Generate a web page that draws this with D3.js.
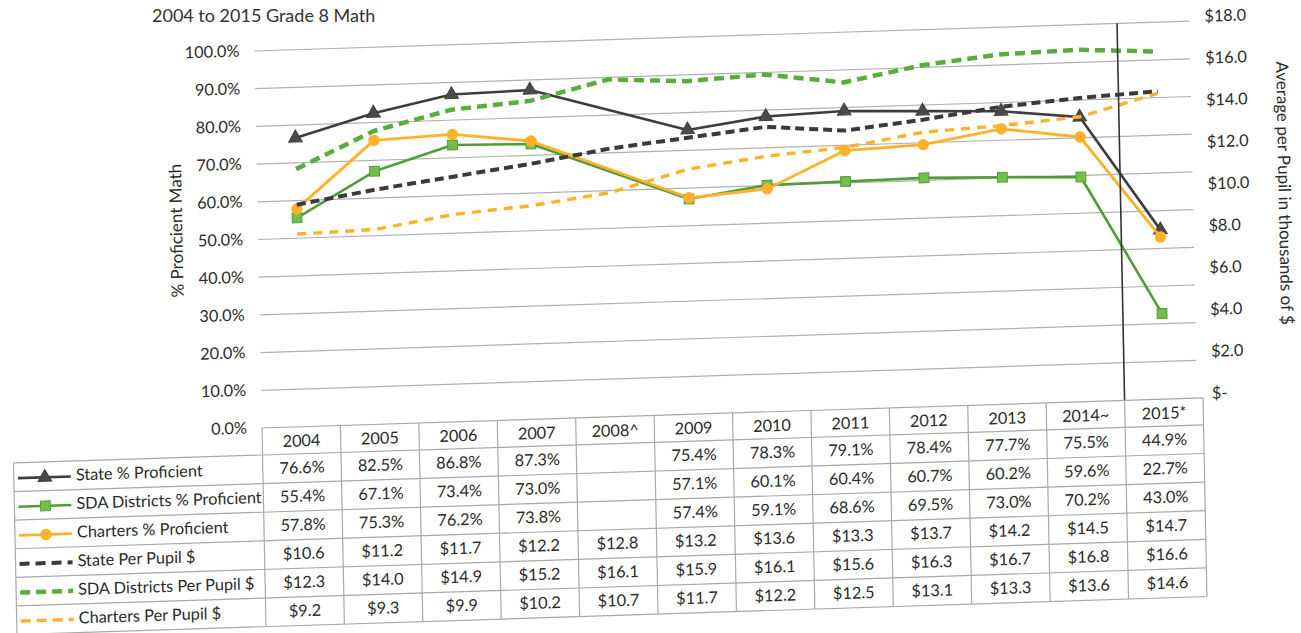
<!DOCTYPE html>
<html>
<head>
<meta charset="utf-8">
<script src="https://cdn.jsdelivr.net/npm/d3@7"></script>
<style>
  body { margin: 0; background: #fff; }
  svg { display: block; font-family: Lato, "Open Sans", sans-serif; }
  .grid line { stroke: #b0b0b0; stroke-width: 1.2; }
  .tick-label { font-size: 16.3px; fill: #2b2b2b; }
  .axis-title { font-size: 17px; fill: #2b2b2b; }
  .table-line { stroke: #a8a8a8; stroke-width: 1.2; }
  .cell { font-size: 16.3px; fill: #2b2b2b; }
</style>
</head>
<body>
<svg id="chart" width="1301" height="633"></svg>
<script>
const years = ['2004', '2005', '2006', '2007', '2008^', '2009', '2010', '2011', '2012', '2013', '2014~', '2015*'];

// % proficient (left axis); 2008 has no test data
const stateProficient = [76.6, 82.5, 86.8, 87.3, null, 75.4, 78.3, 79.1, 78.4, 77.7, 75.5, 44.9];
const sdaProficient = [55.4, 67.1, 73.4, 73.0, null, 57.1, 60.1, 60.4, 60.7, 60.2, 59.6, 22.7];
const chartersProficient = [57.8, 75.3, 76.2, 73.8, null, 57.4, 59.1, 68.6, 69.5, 73.0, 70.2, 43.0];

// per pupil spending in thousands (right axis)
const statePerPupil = [10.6, 11.2, 11.7, 12.2, 12.8, 13.2, 13.6, 13.3, 13.7, 14.2, 14.5, 14.7];
const sdaPerPupil = [12.3, 14.0, 14.9, 15.2, 16.1, 15.9, 16.1, 15.6, 16.3, 16.7, 16.8, 16.6];
const chartersPerPupil = [9.2, 9.3, 9.9, 10.2, 10.7, 11.7, 12.2, 12.5, 13.1, 13.3, 13.6, 14.6];

const percentTicks = [0, 10, 20, 30, 40, 50, 60, 70, 80, 90, 100];
const dollarTicks = [0, 2, 4, 6, 8, 10, 12, 14, 16, 18];

const plot = { left: 262, right: 1203, top: 51, bottom: 428 };
const table = { left: 13, headerHeight: 27, rowHeight: 28.6 };

const svg = d3.select('#chart');

// title sits outside the leaning group so it stays fully on the page
svg.append('text')
  .attr('x', 152)
  .attr('y', 22)
  .attr('font-size', 18)
  .attr('fill', '#333')
  .text('2004 to 2015 Grade 8 Math');

// the source is a slightly crooked scan, so the whole drawing leans a little
const page = svg.append('g')
  .attr('transform', `translate(${plot.left},${plot.bottom}) matrix(1,-0.032,0.02,1,0,0) translate(${-plot.left},${-plot.bottom})`);

const x = d3.scaleBand().domain(years).range([plot.left, plot.right]).padding(0);
const yPct = d3.scaleLinear().domain([0, 100]).range([plot.bottom, plot.top]);
const yUsd = d3.scaleLinear().domain([0, 18]).range([plot.bottom, plot.top]);
const cx = (year) => x(year) + x.bandwidth() / 2;

// gridlines follow the left axis
page.append('g')
  .attr('class', 'grid')
  .selectAll('line')
  .data(percentTicks.slice(1))
  .join('line')
  .attr('x1', plot.left)
  .attr('x2', plot.right - 6)
  .attr('y1', (d) => yPct(d))
  .attr('y2', (d) => yPct(d));

page.append('g')
  .selectAll('text')
  .data(percentTicks)
  .join('text')
  .attr('class', 'tick-label')
  .attr('x', 247)
  .attr('y', (d) => yPct(d) + 1)
  .attr('text-anchor', 'end')
  .attr('dominant-baseline', 'middle')
  .text((d) => d3.format('.1f')(d) + '%');

page.append('g')
  .selectAll('text')
  .data(dollarTicks)
  .join('text')
  .attr('class', 'tick-label')
  .attr('x', 1212)
  .attr('y', (d) => yUsd(d) - 3)
  .attr('dominant-baseline', 'middle')
  .text((d) => (d === 0 ? '$-' : '$' + d3.format('.1f')(d)));

page.append('text')
  .attr('class', 'axis-title')
  .attr('transform', 'translate(182,228) rotate(-90)')
  .attr('text-anchor', 'middle')
  .attr('dominant-baseline', 'middle')
  .text('% Proficient Math');

page.append('text')
  .attr('class', 'axis-title')
  .attr('transform', 'translate(1287,226) rotate(90)')
  .attr('text-anchor', 'middle')
  .attr('dominant-baseline', 'middle')
  .text('Average per Pupil in thousands of $');

const series = [
  { name: 'State % Proficient', values: stateProficient, axis: yPct, color: '#3d3d3d', width: 2.6, dash: null, marker: d3.symbolTriangle, fill: '#4a4a4a' },
  { name: 'SDA Districts % Proficient', values: sdaProficient, axis: yPct, color: '#4f9e35', width: 2.6, dash: null, marker: d3.symbolSquare, fill: '#72bf4e' },
  { name: 'Charters % Proficient', values: chartersProficient, axis: yPct, color: '#ffb12a', width: 2.8, dash: null, marker: d3.symbolCircle, fill: '#ffb12a' },
  { name: 'State Per Pupil $', values: statePerPupil, axis: yUsd, color: '#3a3a3a', width: 4, dash: '9 5', marker: null },
  { name: 'SDA Districts Per Pupil $', values: sdaPerPupil, axis: yUsd, color: '#5aad3c', width: 4.5, dash: '10 6', marker: null },
  { name: 'Charters Per Pupil $', values: chartersPerPupil, axis: yUsd, color: '#ffb12a', width: 3.4, dash: '9 7', marker: null },
];

const markerSizes = { 0: 80, 1: 95, 2: 85 };

series.forEach((s, i) => {
  // empty 2008 cells are skipped, the line joins 2007 straight to 2009
  const points = years
    .map((year, j) => ({ year, v: s.values[j] }))
    .filter((p) => p.v !== null);

  const line = d3.line()
    .x((p) => cx(p.year))
    .y((p) => s.axis(p.v));

  page.append('path')
    .datum(points)
    .attr('fill', 'none')
    .attr('stroke', s.color)
    .attr('stroke-width', s.width)
    .attr('stroke-dasharray', s.dash)
    .attr('stroke-linejoin', 'round')
    .attr('d', line);

  if (s.marker) {
    page.append('g')
      .selectAll('path')
      .data(points)
      .join('path')
      .attr('transform', (p) => `translate(${cx(p.year)},${s.axis(p.v)})`)
      .attr('d', d3.symbol().type(s.marker).size(markerSizes[i]))
      .attr('fill', s.fill)
      .attr('stroke', s.color)
      .attr('stroke-width', 1);
  }
});

// hand drawn divider between 2014 and 2015
page.append('line')
  .attr('x1', x('2015*'))
  .attr('x2', x('2015*'))
  .attr('y1', plot.top)
  .attr('y2', plot.bottom)
  .attr('stroke', '#333')
  .attr('stroke-width', 1.6);

// data table under the plot
const headerTop = plot.bottom;
const rowsTop = headerTop + table.headerHeight;
const tableBottom = rowsTop + series.length * table.rowHeight;
const tableGroup = page.append('g');

tableGroup.append('line')
  .attr('class', 'table-line')
  .attr('x1', plot.left).attr('x2', plot.right)
  .attr('y1', headerTop).attr('y2', headerTop);

d3.range(series.length + 1).forEach((r) => {
  const yy = rowsTop + r * table.rowHeight;
  tableGroup.append('line')
    .attr('class', 'table-line')
    .attr('x1', table.left).attr('x2', plot.right)
    .attr('y1', yy).attr('y2', yy);
});

tableGroup.append('line')
  .attr('class', 'table-line')
  .attr('x1', table.left).attr('x2', table.left)
  .attr('y1', rowsTop).attr('y2', tableBottom);

tableGroup.selectAll('.col-border')
  .data(years.concat(['end']))
  .join('line')
  .attr('class', 'table-line')
  .attr('x1', (d) => (d === 'end' ? plot.right : x(d)))
  .attr('x2', (d) => (d === 'end' ? plot.right : x(d)))
  .attr('y1', headerTop)
  .attr('y2', tableBottom);

tableGroup.selectAll('.year-label')
  .data(years)
  .join('text')
  .attr('class', 'cell')
  .attr('x', (d) => cx(d))
  .attr('y', headerTop + table.headerHeight / 2 + 2)
  .attr('text-anchor', 'middle')
  .attr('dominant-baseline', 'middle')
  .text((d) => d);

series.forEach((s, r) => {
  const rowMid = rowsTop + r * table.rowHeight + table.rowHeight / 2 + 1;
  const isPct = s.axis === yPct;

  const key = tableGroup.append('g');
  key.append('line')
    .attr('x1', 17).attr('x2', 70)
    .attr('y1', rowMid).attr('y2', rowMid)
    .attr('stroke', s.color)
    .attr('stroke-width', s.width)
    .attr('stroke-dasharray', s.dash ? '10 6' : null);
  if (s.marker) {
    key.append('path')
      .attr('transform', `translate(44,${rowMid})`)
      .attr('d', d3.symbol().type(s.marker).size(markerSizes[r]))
      .attr('fill', s.fill)
      .attr('stroke', s.color);
  }
  key.append('text')
    .attr('class', 'cell')
    .attr('x', 75)
    .attr('y', rowMid)
    .attr('dominant-baseline', 'middle')
    .text(s.name);

  tableGroup.append('g')
    .selectAll('text')
    .data(years.map((year, j) => ({ year, v: s.values[j] })).filter((p) => p.v !== null))
    .join('text')
    .attr('class', 'cell')
    .attr('x', (p) => cx(p.year))
    .attr('y', rowMid)
    .attr('text-anchor', 'middle')
    .attr('dominant-baseline', 'middle')
    .text((p) => (isPct ? d3.format('.1f')(p.v) + '%' : '$' + d3.format('.1f')(p.v)));
});
</script>
</body>
</html>
